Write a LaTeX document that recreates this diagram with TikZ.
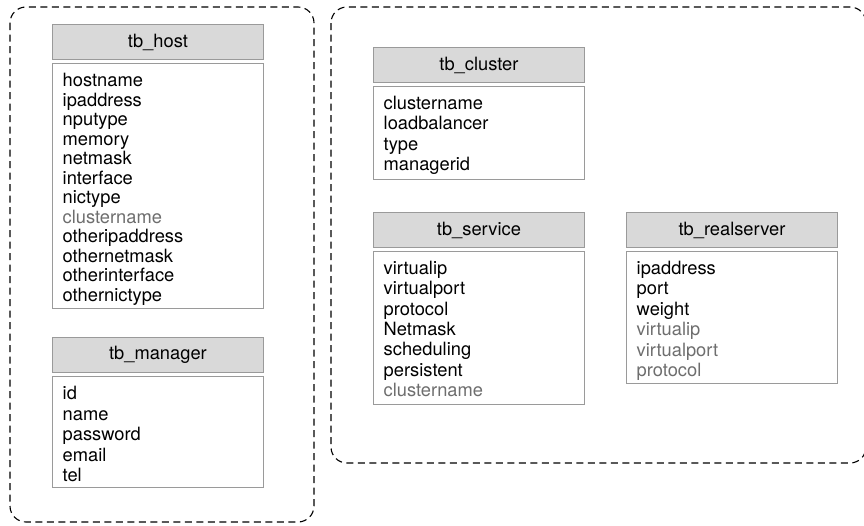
\documentclass[tikz,border=0pt]{standalone}
\usepackage{fontspec}
\setmainfont{TeX Gyre Heros}

\definecolor{tableline}{HTML}{9A9A9A}
\definecolor{headfill}{HTML}{D9D9D9}
\definecolor{keygray}{HTML}{6E6E6E}

\newcommand\tabfont{\fontsize{18.3}{19.5}\selectfont}
% a column that refers to another table
\newcommand\fk[1]{\textcolor{keygray}{#1}}

% #1 key, #2 title, #3 left, #4 top, #5 body height, #6 line step, #7 columns
\newcommand\dbtable[7]{%
  \node[hdr] (#1-head) at (#3,#4) {#2};
  \node[tbody, minimum height=#5pt] (#1-body) at (#3,#4+39) {};
  \foreach \f [count=\i from 0] in {#7} {
    \node[field] (#1-f\i) at (#3+10.5,#4+62.5+\i*#6) {\f};
  }%
}

\begin{document}
\begin{tikzpicture}[
  x=1pt, y=-1pt,
  hdr/.style={draw=tableline, fill=headfill, line width=0.9pt,
    minimum width=211pt, minimum height=35pt, anchor=north west,
    inner sep=0pt, font=\tabfont},
  tbody/.style={draw=tableline, fill=white, line width=0.9pt,
    minimum width=211pt, anchor=north west, inner sep=0pt},
  field/.style={anchor=base west, inner sep=0pt, font=\tabfont},
  group/.style={draw=black, line width=1.1pt, dash pattern=on 7pt off 4.5pt,
    rounded corners=16pt},
]
\useasboundingbox (0,0) rectangle (864,525);

% group frames
\draw[group] (10,7) rectangle (314,522);
\draw[group] (331,7) rectangle (866,463);

\dbtable{host}{tb\_host}{52}{24}{245}{19.5}{hostname, ipaddress, nputype,
  memory, netmask, interface, nictype, \fk{clustername}, otheripaddress,
  othernetmask, otherinterface, othernictype}

\dbtable{manager}{tb\_manager}{52}{337}{111}{20.5}{id, name, password,
  email, tel}

\dbtable{cluster}{tb\_cluster}{373}{47}{93}{20.3}{clustername,
  loadbalancer, type, managerid}

\dbtable{service}{tb\_service}{373}{212}{153}{20.3}{virtualip,
  virtualport, protocol, Netmask, scheduling, persistent,
  \fk{clustername}}

\dbtable{real}{tb\_realserver}{626}{212}{132}{20.4}{ipaddress, port,
  weight, \fk{virtualip}, \fk{virtualport}, \fk{protocol}}
\end{tikzpicture}
\end{document}
